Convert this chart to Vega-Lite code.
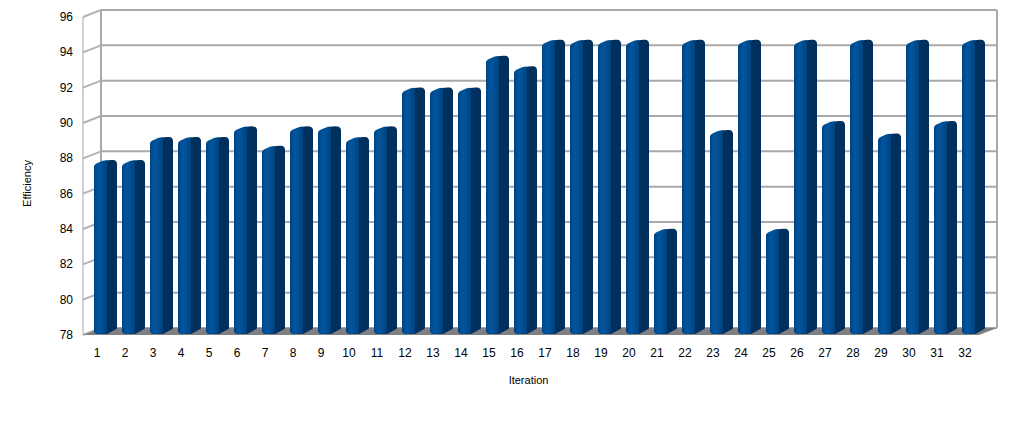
{"$schema":"https://vega.github.io/schema/vega-lite/v6.json","width":896,"height":318,"autosize":{"type":"none"},"padding":{"left":83,"top":17,"right":40,"bottom":108},"background":"white","view":{"stroke":null},"config":{"font":"Liberation Sans"},"datasets":{"bars":[{"iteration":1,"efficiency":87.5},{"iteration":2,"efficiency":87.5},{"iteration":3,"efficiency":88.8},{"iteration":4,"efficiency":88.8},{"iteration":5,"efficiency":88.8},{"iteration":6,"efficiency":89.4},{"iteration":7,"efficiency":88.3},{"iteration":8,"efficiency":89.4},{"iteration":9,"efficiency":89.4},{"iteration":10,"efficiency":88.8},{"iteration":11,"efficiency":89.4},{"iteration":12,"efficiency":91.6},{"iteration":13,"efficiency":91.6},{"iteration":14,"efficiency":91.6},{"iteration":15,"efficiency":93.4},{"iteration":16,"efficiency":92.8},{"iteration":17,"efficiency":94.3},{"iteration":18,"efficiency":94.3},{"iteration":19,"efficiency":94.3},{"iteration":20,"efficiency":94.3},{"iteration":21,"efficiency":83.6},{"iteration":22,"efficiency":94.3},{"iteration":23,"efficiency":89.2},{"iteration":24,"efficiency":94.3},{"iteration":25,"efficiency":83.6},{"iteration":26,"efficiency":94.3},{"iteration":27,"efficiency":89.7},{"iteration":28,"efficiency":94.3},{"iteration":29,"efficiency":89.0},{"iteration":30,"efficiency":94.3},{"iteration":31,"efficiency":89.7},{"iteration":32,"efficiency":94.3}],"ticks":[{"v":78},{"v":80},{"v":82},{"v":84},{"v":86},{"v":88},{"v":90},{"v":92},{"v":94},{"v":96}],"floor":[{"x":0.5,"top":78,"base":78},{"x":1.143,"top":78.396,"base":78},{"x":32.5,"top":78.396,"base":78},{"x":33.143,"top":78.396,"base":78.396}]},"layer":[{"data":{"name":"ticks"},"mark":{"type":"rule","color":"#a9a9a9","strokeWidth":2,"xOffset":18,"x2Offset":18,"yOffset":-7},"encoding":{"x":{"datum":0.5,"type":"quantitative","scale":{"domain":[0.5,32.5],"nice":false,"zero":false,"padding":0},"axis":{"labels":false,"grid":false,"domain":false,"ticks":false,"title":"Iteration","titleFontSize":11,"titleFontWeight":"normal","titleColor":"#000000","titleX":445,"titleY":39}},"x2":{"datum":32.5},"y":{"field":"v","type":"quantitative","scale":{"domain":[78,96],"nice":false,"zero":false,"padding":0},"axis":{"labels":false,"grid":false,"domain":false,"ticks":false,"title":"Efficiency","titleFontSize":11,"titleFontWeight":"normal","titleColor":"#000000","titleX":-51,"titleY":166}}}},{"data":{"name":"ticks"},"mark":{"type":"rule","color":"#b3b3b3","strokeWidth":2,"x2Offset":18,"y2Offset":-7},"encoding":{"x":{"datum":0.5},"x2":{"datum":0.5},"y":{"field":"v","type":"quantitative"},"y2":{"field":"v"}}},{"data":{"values":[{"side":0.5},{"side":32.5}]},"mark":{"type":"rule","color":"#a9a9a9","strokeWidth":2,"xOffset":18,"x2Offset":18,"yOffset":-7,"y2Offset":-7},"encoding":{"x":{"field":"side","type":"quantitative"},"y":{"datum":78},"y2":{"datum":96}}},{"data":{"values":[{"side":0.5}]},"mark":{"type":"rule","color":"#a8a4ac","strokeWidth":1},"encoding":{"x":{"field":"side","type":"quantitative"},"y":{"datum":78},"y2":{"datum":96}}},{"data":{"name":"floor"},"mark":{"type":"area","color":"#808080","orient":"vertical"},"encoding":{"x":{"field":"x","type":"quantitative"},"y":{"field":"top","type":"quantitative"},"y2":{"field":"base"}}},{"data":{"name":"bars"},"mark":{"type":"bar","orient":"vertical","width":10,"xOffset":15,"yOffset":-4,"y2Offset":-7,"fill":"#00305e"},"encoding":{"x":{"field":"iteration","type":"quantitative"},"y":{"field":"efficiency","type":"quantitative"},"y2":{"datum":78}}},{"data":{"name":"bars"},"mark":{"type":"point","filled":true,"opacity":1,"size":4,"strokeWidth":0,"fill":"#00305e","shape":"M9,-3 L9,-6.6 Q12,-7.4 16,-7.2 Q20,-7 20,-3 Z"},"encoding":{"x":{"field":"iteration","type":"quantitative"},"y":{"field":"efficiency","type":"quantitative"}}},{"data":{"name":"bars"},"mark":{"type":"point","filled":true,"opacity":1,"size":4,"strokeWidth":0,"fill":"#00305e","shape":"M9,-9 L20,-9 L20,-7 Q20,-6 18,-5.2 L12.5,-2.2 Q11,-1 8,-1 Z"},"encoding":{"x":{"field":"iteration","type":"quantitative"},"y":{"datum":78}}},{"data":{"name":"bars"},"mark":{"type":"bar","orient":"vertical","width":13,"xOffset":3.5,"cornerRadiusBottomLeft":3,"cornerRadiusBottomRight":3,"y2Offset":-1,"fill":{"gradient":"linear","x1":0,"x2":1,"y1":0,"y2":0,"stops":[{"offset":0,"color":"#004585"},{"offset":0.4,"color":"#00569f"},{"offset":1,"color":"#00437f"}]}},"encoding":{"x":{"field":"iteration","type":"quantitative"},"y":{"field":"efficiency","type":"quantitative"},"y2":{"datum":78}}},{"data":{"name":"bars"},"mark":{"type":"point","filled":true,"opacity":1,"size":4,"strokeWidth":0,"fill":{"gradient":"linear","x1":0,"x2":1,"y1":0,"y2":0,"stops":[{"offset":0,"color":"#004585"},{"offset":0.4,"color":"#00569f"},{"offset":1,"color":"#00437f"}]},"shape":"M-3,1 L-3,-1 Q-2.5,-3 0,-4 L5,-6.2 Q7,-6.9 10,-7 L10,1 Z"},"encoding":{"x":{"field":"iteration","type":"quantitative"},"y":{"field":"efficiency","type":"quantitative"}}},{"data":{"name":"bars"},"mark":{"type":"text","fontSize":12,"color":"#000000","align":"center","baseline":"middle","dy":18},"encoding":{"x":{"field":"iteration","type":"quantitative"},"y":{"datum":78},"text":{"field":"iteration","type":"quantitative","format":"d"}}},{"data":{"name":"ticks"},"mark":{"type":"text","fontSize":12,"color":"#000000","align":"right","baseline":"middle","dx":-10},"encoding":{"x":{"datum":0.5},"y":{"field":"v","type":"quantitative"},"text":{"field":"v","type":"quantitative","format":"d"}}}]}
